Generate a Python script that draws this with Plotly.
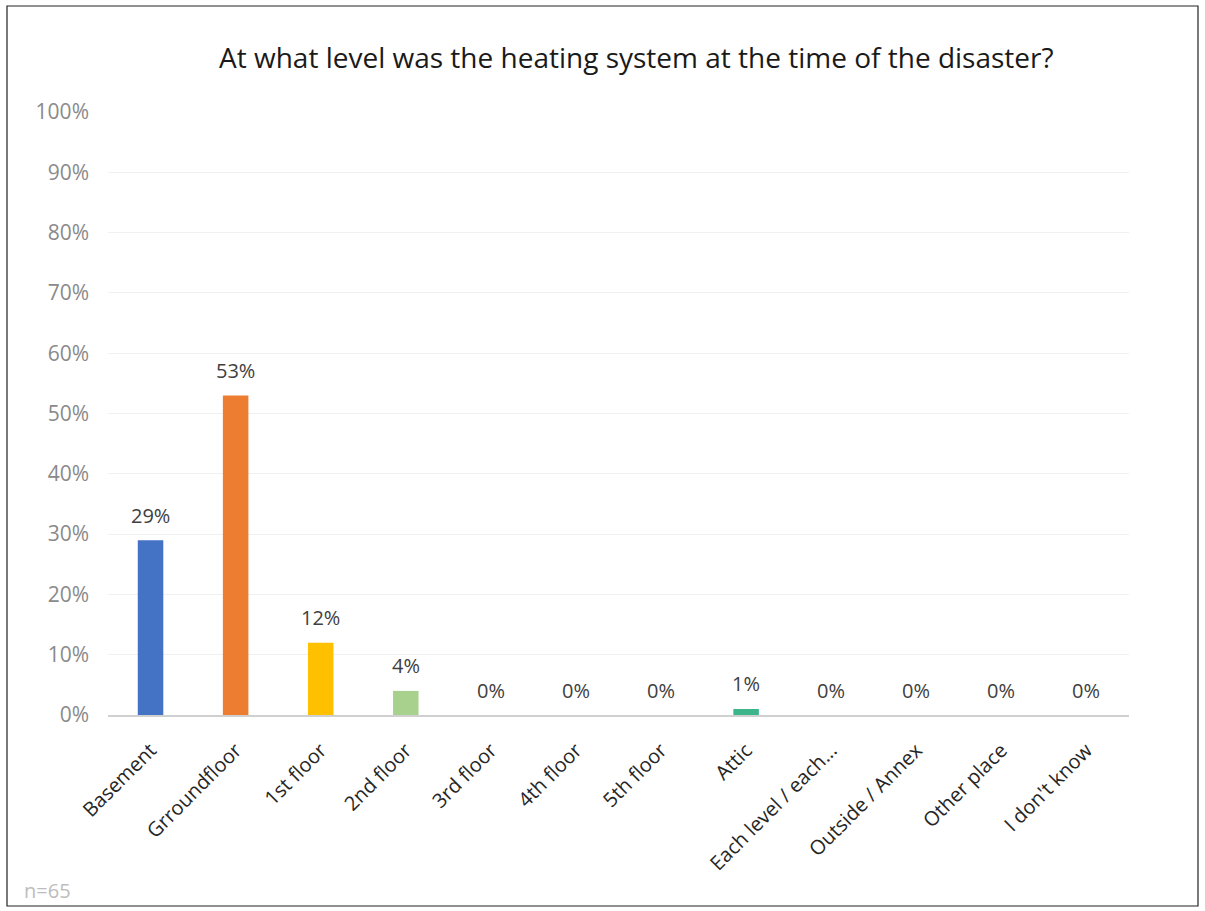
import plotly.graph_objects as go

# Survey answers: location of the heating system
categories = ["Basement", "Grroundfloor", "1st floor", "2nd floor", "3rd floor",
              "4th floor", "5th floor", "Attic", "Each level / each...",
              "Outside / Annex", "Other place", "I don't know"]
shares = [29, 53, 12, 4, 0, 0, 0, 1, 0, 0, 0, 0]
bar_colors = ["#4472C4", "#ED7D31", "#FFC000", "#A9D18E", "#5B9BD5", "#70AD47",
              "#264478", "#3DB58B", "#636363", "#997300", "#255E91", "#43682B"]
y_ticks = [0, 10, 20, 30, 40, 50, 60, 70, 80, 90, 100]

FONT = "Open Sans, Liberation Sans, sans-serif"
W, H = 1205, 911
L, R, T, B = 108, 76, 112, 196
pw, ph = W - L - R, H - T - B

def px_to_paper(x, y):
    return (x - L) / pw, (H - B - y) / ph

fig = go.Figure(go.Bar(
    x=categories,
    y=shares,
    marker=dict(color=bar_colors, line=dict(width=0)),
    cliponaxis=False,
    width=0.3,
))

# value labels above each bar
for cat, v in zip(categories, shares):
    fig.add_annotation(x=cat, y=v, text=f"{v}%", showarrow=False,
                       xanchor="center", yanchor="middle", yshift=25,
                       font=dict(size=20, color="#404040", family=FONT))

x0, y0 = px_to_paper(7, 6)
x1, y1 = px_to_paper(1198, 906)
fig.add_shape(type="rect", xref="paper", yref="paper", x0=x0, y0=y1, x1=x1, y1=y0,
              line=dict(color="#222222", width=1.2), fillcolor="rgba(0,0,0,0)", layer="below")

tx, ty = px_to_paper(636, 57)
fig.add_annotation(text="At what level was the heating system at the time of the disaster?",
                   xref="paper", yref="paper", x=tx, y=ty, showarrow=False,
                   xanchor="center", yanchor="middle",
                   font=dict(size=28, color="#1a1a1a", family=FONT))

nx, ny = px_to_paper(22, 890)
fig.add_annotation(text="n=65", xref="paper", yref="paper", x=nx, y=ny, showarrow=False,
                   xanchor="left", yanchor="middle",
                   font=dict(size=20, color="#bdbdbd", family=FONT))

fig.update_layout(
    width=W, height=H,
    margin=dict(l=L, r=R, t=T, b=B),
    paper_bgcolor="white", plot_bgcolor="white",
    showlegend=False,
    bargap=0.7,
    xaxis=dict(
        tickangle=-45,
        tickfont=dict(size=20, color="#262626", family=FONT),
        showline=True, linecolor="#d0d0d0", linewidth=1.5,
        showgrid=False, ticks="",
        ticklabelstandoff=14,
    ),
    yaxis=dict(
        range=[0, 100],
        tickvals=y_ticks,
        ticktext=[f"{v}%" for v in y_ticks],
        tickfont=dict(size=21, color="#8a8a8a", family=FONT),
        showgrid=True, gridcolor="#f0f0f0", gridwidth=1,
        zeroline=False, showline=False, ticks="", ticklabelstandoff=18,
    ),
)

fig.write_html("out.html")
